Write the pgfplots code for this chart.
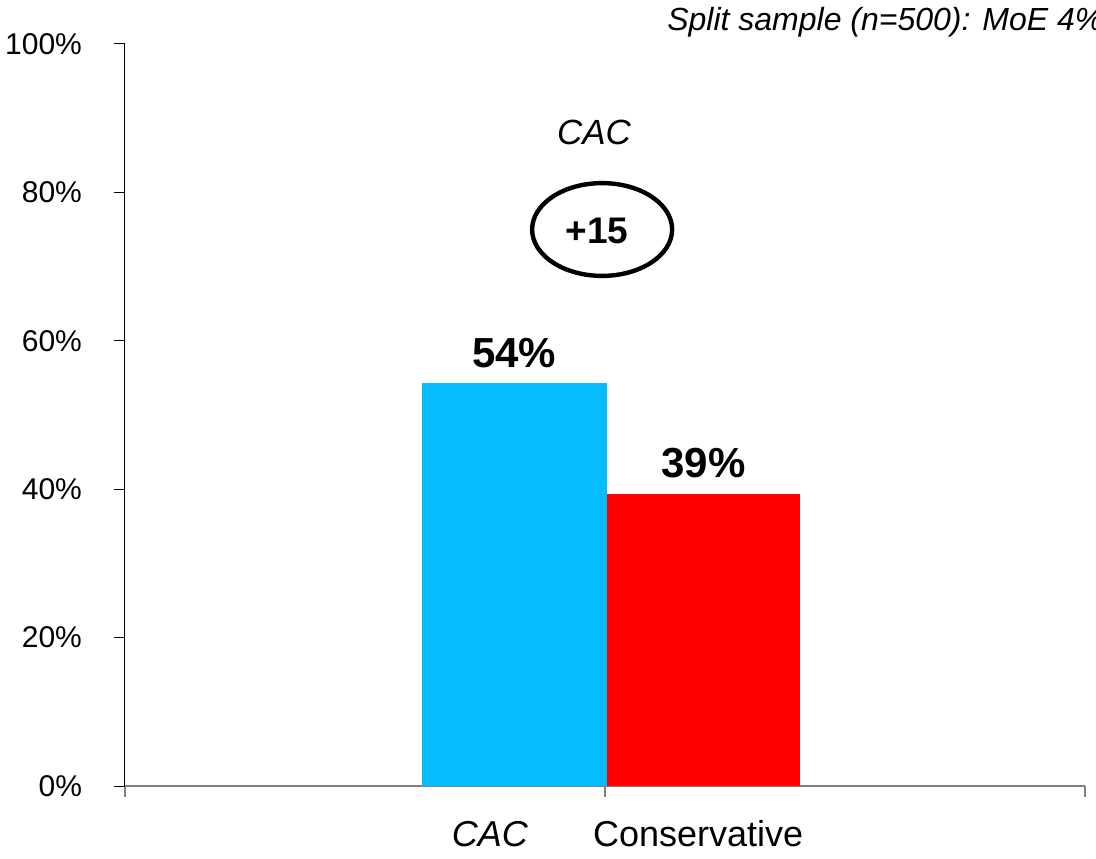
\documentclass[border=0pt]{standalone}
\usepackage{fontspec}
\setmainfont{Liberation Sans}
\usepackage{pgfplots}
\pgfplotsset{compat=1.18}
\definecolor{cacblue}{HTML}{05BCFE}
\definecolor{conred}{HTML}{FE0000}

\begin{document}
\begin{tikzpicture}
\path[use as bounding box] (0,0) rectangle (548pt,429pt);
\begin{axis}[
  at={(62.5pt,36pt)}, anchor=south west,
  scale only axis,
  width=480pt, height=371pt,
  xmin=0, xmax=2, ymin=0, ymax=100,
  axis x line*=bottom, axis y line*=left,
  x axis line style={draw=gray, line width=1pt, -},
  y axis line style={draw=black, line width=0.5pt, -},
  tick align=outside,
  major tick length=5.5pt,
  xtick={0,1,2}, xticklabels={},
  x tick style={draw=gray, line width=0.7pt},
  y tick style={draw=black, line width=0.5pt},
  ytick={0,20,40,60,80,100},
  yticklabels={0\%,20\%,40\%,60\%,80\%,100\%},
  yticklabel style={font=\fontsize{15}{17}\selectfont, xshift=-12.5pt},
  ybar, bar shift=0pt,
  nodes near coords,
  point meta=explicit symbolic,
  every node near coord/.append style={font=\fontsize{21}{24}\selectfont\bfseries, anchor=south, inner sep=0pt, yshift=7.5pt},
  clip=false,
]
\addplot[fill=cacblue, draw=none, bar width=92.5pt] coordinates {(0.811,54.3) [54\%]};
\addplot[fill=conred, draw=none, bar width=96.5pt] coordinates {(1.205,39.4) [39\%]};

\node[anchor=base, font=\fontsize{18}{20}\selectfont\itshape] at (axis cs:0.760,0) [yshift=-30pt] {CAC};
\node[anchor=base, font=\fontsize{18}{20}\selectfont] at (axis cs:1.194,0) [yshift=-30pt] {Conservative};

\node[font=\fontsize{17.5}{20}\selectfont\itshape] at (axis cs:0.977,88.1) {CAC};
\draw[line width=2.2pt] (axis cs:0.994,75.0) ellipse [x radius=35pt, y radius=23.2pt];
\node[font=\fontsize{18.5}{20}\selectfont\bfseries] at (axis cs:0.983,74.8) {+15};

\node[anchor=west, font=\fontsize{16}{18}\selectfont\itshape, inner sep=0pt] at (axis cs:1.129,103.0) {Split sample (n=500): MoE 4\%};
\end{axis}
\end{tikzpicture}
\end{document}
